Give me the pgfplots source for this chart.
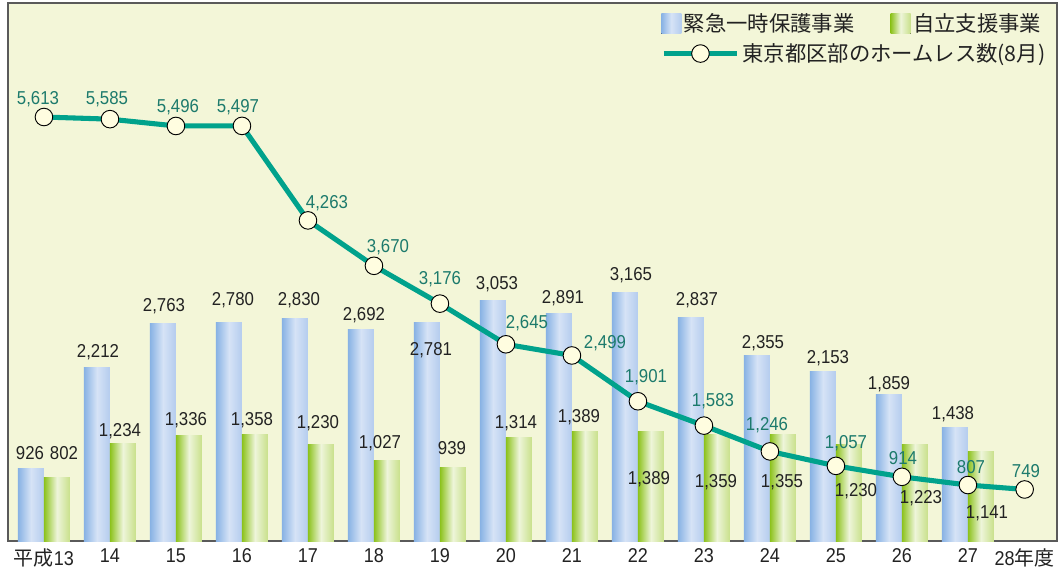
\documentclass[border=0pt]{standalone}
\usepackage{fontspec}
\setmainfont{Liberation Sans}[FakeStretch=0.9]
\newfontfamily\jp{Noto Sans CJK JP}
\usepackage{pgfplots}
\pgfplotsset{compat=1.18}
\definecolor{bgcol}{HTML}{F3F6D8}
\definecolor{frame}{HTML}{5A5A5A}
\definecolor{blueL}{HTML}{88B2E4}
\definecolor{blueM}{HTML}{D6E3F6}
\definecolor{blueR}{HTML}{B4CCEE}
\definecolor{greenL}{HTML}{8CC21C}
\definecolor{greenM}{HTML}{EEF5DA}
\definecolor{greenR}{HTML}{C8E08A}
\definecolor{teal}{HTML}{00A28C}
\definecolor{tealtxt}{HTML}{1C7A6C}
\definecolor{mfill}{HTML}{FFFDE0}
\definecolor{txt}{HTML}{222222}
\newcommand\vfont{\fontsize{14}{16}\selectfont}
\pgfplotsset{
  bb/.style={ybar, bar width=0.394, bar shift=-0.197, draw=none,
    left color=blueL, right color=blueR, middle color=blueM},
  gb/.style={ybar, bar width=0.394, bar shift=0.197, draw=none,
    left color=greenL, right color=greenR, middle color=greenM},
}
\begin{document}
\begin{tikzpicture}
\path[use as bounding box] (0pt,0pt) rectangle (795pt,429pt);
\begin{axis}[
  at={(6pt,23.25pt)}, anchor=south west,
  width=786.75pt, height=403.5pt, scale only axis,
  xmin=-0.545, xmax=15.35, ymin=0, ymax=6843,
  axis background/.style={fill=bgcol},
  axis line style={draw=frame, line width=1.2pt},
  ytick=\empty,
  xtick={0,1,2,3,4,5,6,7,8,9,10,11,12,13,14,14.86},
  xticklabels={{\jp 平成}13,14,15,16,17,18,19,20,21,22,23,24,25,26,27,28{\jp 年度}},
  xtick style={draw=none},
  xticklabel style={font=\fontsize{15}{17}\selectfont, text=txt, yshift=-2pt},
  legend columns=2,
  legend style={at={(0.6225,0.985)}, anchor=north west, draw=none, fill=none,
    inner sep=0pt, font=\jp\fontsize{16}{18}\selectfont, text=txt,
    /tikz/every even column/.append style={column sep=25pt}},
  legend cell align=left,
  area legend,
  legend image code/.code={\fill[#1] (0pt,-7.5pt) rectangle (15pt,7.5pt);},
]
% 緊急一時保護事業
\addplot[bb] coordinates {(0,926)};
\addlegendentry{緊急一時保護事業}
\addplot[gb] coordinates {(0,802)};
\addlegendentry{自立支援事業}
\addplot[bb, forget plot] coordinates {(1,2212)};
\addplot[bb, forget plot] coordinates {(2,2763)};
\addplot[bb, forget plot] coordinates {(3,2780)};
\addplot[bb, forget plot] coordinates {(4,2830)};
\addplot[bb, forget plot] coordinates {(5,2692)};
\addplot[bb, forget plot] coordinates {(6,2781)};
\addplot[bb, forget plot] coordinates {(7,3053)};
\addplot[bb, forget plot] coordinates {(8,2891)};
\addplot[bb, forget plot] coordinates {(9,3165)};
\addplot[bb, forget plot] coordinates {(10,2837)};
\addplot[bb, forget plot] coordinates {(11,2355)};
\addplot[bb, forget plot] coordinates {(12,2153)};
\addplot[bb, forget plot] coordinates {(13,1859)};
\addplot[bb, forget plot] coordinates {(14,1438)};
% 自立支援事業
\addplot[gb, forget plot] coordinates {(1,1234)};
\addplot[gb, forget plot] coordinates {(2,1336)};
\addplot[gb, forget plot] coordinates {(3,1358)};
\addplot[gb, forget plot] coordinates {(4,1230)};
\addplot[gb, forget plot] coordinates {(5,1027)};
\addplot[gb, forget plot] coordinates {(6,939)};
\addplot[gb, forget plot] coordinates {(7,1314)};
\addplot[gb, forget plot] coordinates {(8,1389)};
\addplot[gb, forget plot] coordinates {(9,1389)};
\addplot[gb, forget plot] coordinates {(10,1359)};
\addplot[gb, forget plot] coordinates {(11,1355)};
\addplot[gb, forget plot] coordinates {(12,1230)};
\addplot[gb, forget plot] coordinates {(13,1223)};
\addplot[gb, forget plot] coordinates {(14,1141)};
\end{axis}
\begin{axis}[
  at={(6pt,23.25pt)}, anchor=south west,
  width=786.75pt, height=403.5pt, scale only axis,
  xmin=-0.545, xmax=15.35, ymin=76, ymax=7102,
  axis line style={draw=none},
  xtick=\empty, ytick=\empty, clip=false,
  legend style={at={(0.6225,0.93)}, anchor=north west, draw=none, fill=none,
    inner sep=0pt, font=\jp\fontsize{16}{18}\selectfont, text=txt},
  legend cell align=left,
  legend image code/.code={
    \draw[#1, mark=none] (0pt,0pt) -- (55pt,0pt);
    \draw[#1, only marks] plot coordinates {(27.5pt,0pt)};},
]
\addplot[teal, line width=3.8pt, mark=*, mark size=6.6pt,
  mark options={fill=mfill, draw=black, line width=0.7pt}]
  coordinates {(0,5613) (1,5585) (2,5496) (3,5497) (4,4263) (5,3670) (6,3176) (7,2645)
  (8,2499) (9,1901) (10,1583) (11,1246) (12,1057) (13,914) (14,807) (14.86,749)};
\addlegendentry{東京都区部のホームレス数(8月)}
\end{axis}
\begin{scope}[x=0.75pt,y=0.75pt]
\tikzset{bl/.style={font=\vfont, text=txt, inner sep=0pt}, ln/.style={font=\vfont, text=tealtxt, inner sep=0pt}}
% blue bar labels
\node[bl] at (30,{572-453}) {926};
\node[bl] at (98,{572-352}) {2,212};
\node[bl] at (164,{572-306}) {2,763};
\node[bl] at (233,{572-300}) {2,780};
\node[bl] at (299,{572-300}) {2,830};
\node[bl] at (364,{572-315}) {2,692};
\node[bl] at (431,{572-350}) {2,781};
\node[bl] at (497,{572-284}) {3,053};
\node[bl] at (563,{572-298}) {2,891};
\node[bl] at (631,{572-275}) {3,165};
\node[bl] at (697,{572-300}) {2,837};
\node[bl] at (763,{572-343}) {2,355};
\node[bl] at (828,{572-358}) {2,153};
\node[bl] at (889,{572-384}) {1,859};
\node[bl] at (953,{572-414}) {1,438};
% green bar labels
\node[bl] at (64,{572-453}) {802};
\node[bl] at (120,{572-431}) {1,234};
\node[bl] at (186,{572-420}) {1,336};
\node[bl] at (252,{572-420}) {1,358};
\node[bl] at (318,{572-423}) {1,230};
\node[bl] at (380,{572-443}) {1,027};
\node[bl] at (452,{572-448}) {939};
\node[bl] at (516,{572-423}) {1,314};
\node[bl] at (579,{572-417}) {1,389};
\node[bl] at (649,{572-479}) {1,389};
\node[bl] at (716,{572-482}) {1,359};
\node[bl] at (782,{572-482}) {1,355};
\node[bl] at (856,{572-491}) {1,230};
\node[bl] at (921,{572-498}) {1,223};
\node[bl] at (987,{572-513}) {1,141};
% line labels
\node[ln] at (38,{572-99}) {5,613};
\node[ln] at (107,{572-99}) {5,585};
\node[ln] at (178,{572-107}) {5,496};
\node[ln] at (238,{572-107}) {5,497};
\node[ln] at (327,{572-203}) {4,263};
\node[ln] at (388,{572-247}) {3,670};
\node[ln] at (440,{572-279}) {3,176};
\node[ln] at (527,{572-323}) {2,645};
\node[ln] at (605,{572-343}) {2,499};
\node[ln] at (646,{572-377}) {1,901};
\node[ln] at (713,{572-401}) {1,583};
\node[ln] at (767,{572-425}) {1,246};
\node[ln] at (846,{572-443}) {1,057};
\node[ln] at (903,{572-458}) {914};
\node[ln] at (971,{572-467}) {807};
\node[ln] at (1026,{572-471}) {749};
\end{scope}
\end{tikzpicture}
\end{document}
